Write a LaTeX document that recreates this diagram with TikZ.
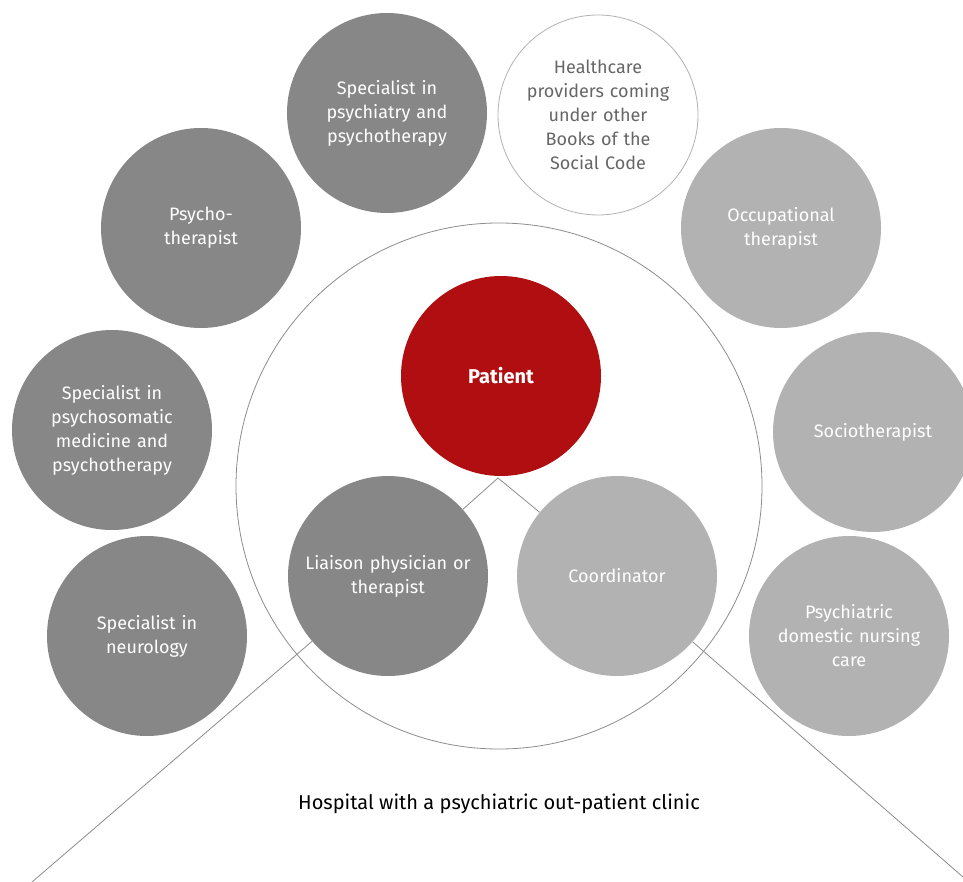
\documentclass[tikz,border=0pt]{standalone}
\usepackage{fontspec}
\setmainfont{Fira Sans}
\definecolor{darkg}{HTML}{878787}
\definecolor{lightg}{HTML}{B2B2B2}
\definecolor{patred}{HTML}{B10E12}
\definecolor{lineg}{HTML}{8C8C8C}
\definecolor{txtg}{HTML}{666666}
\begin{document}
\begin{tikzpicture}[x=1pt,y=-1pt,
  bub/.style={circle,minimum size=200pt,inner sep=0pt,text width=150pt,align=center,font=\fontsize{18}{24}\selectfont,text=white},
  darkbub/.style={bub,fill=darkg},
  lightbub/.style={bub,fill=lightg},
  outbub/.style={bub,draw=lightg,line width=0.8pt,fill=white,text=txtg},
  conn/.style={draw=lineg,line width=0.8pt}]
\useasboundingbox (0,0) rectangle (963,882);
\node[circle,draw=lineg,line width=0.8pt,minimum size=526pt,inner sep=0pt] (hosp) at (499,486) {};
\node[darkbub] (psy) at (387,113) {Specialist in\\psychiatry and\\psychotherapy};
\node[outbub] (hc) at (598,115) {Healthcare\\providers coming\\under other\\Books of the\\Social Code};
\node[darkbub] (pt) at (201,228) {Psycho-\\therapist};
\node[lightbub] (occ) at (781,228) {Occupational\\therapist};
\node[darkbub] (som) at (112,430) {Specialist in\\psychosomatic\\medicine and\\psychotherapy};
\node[lightbub] (soc) at (873,432) {Sociotherapist};
\node[darkbub] (neu) at (147,636) {Specialist in\\neurology\\[48pt]};
\node[lightbub] (nurs) at (849,636) {Psychiatric\\domestic nursing\\care\\[24pt]};
\node[bub,fill=patred,font=\fontsize{20}{24}\selectfont\bfseries] (pat) at (501,376) {Patient};
\node[darkbub,text width=172pt] (lia) at (388,576) {Liaison physician or\\therapist};
\node[lightbub] (coo) at (617,576) {Coordinator};
\node[font=\fontsize{20}{24}\selectfont,text=black] (lbl) at (499,804) {Hospital with a psychiatric out-patient clinic};
\coordinate (apex) at (498,478);
\coordinate (bl) at (32,882);
\coordinate (br) at (963,877);
\draw[conn] (lia) -- (apex) -- (coo);
\draw[conn] (lia) -- (bl);
\draw[conn] (coo) -- (br);
\end{tikzpicture}
\end{document}
